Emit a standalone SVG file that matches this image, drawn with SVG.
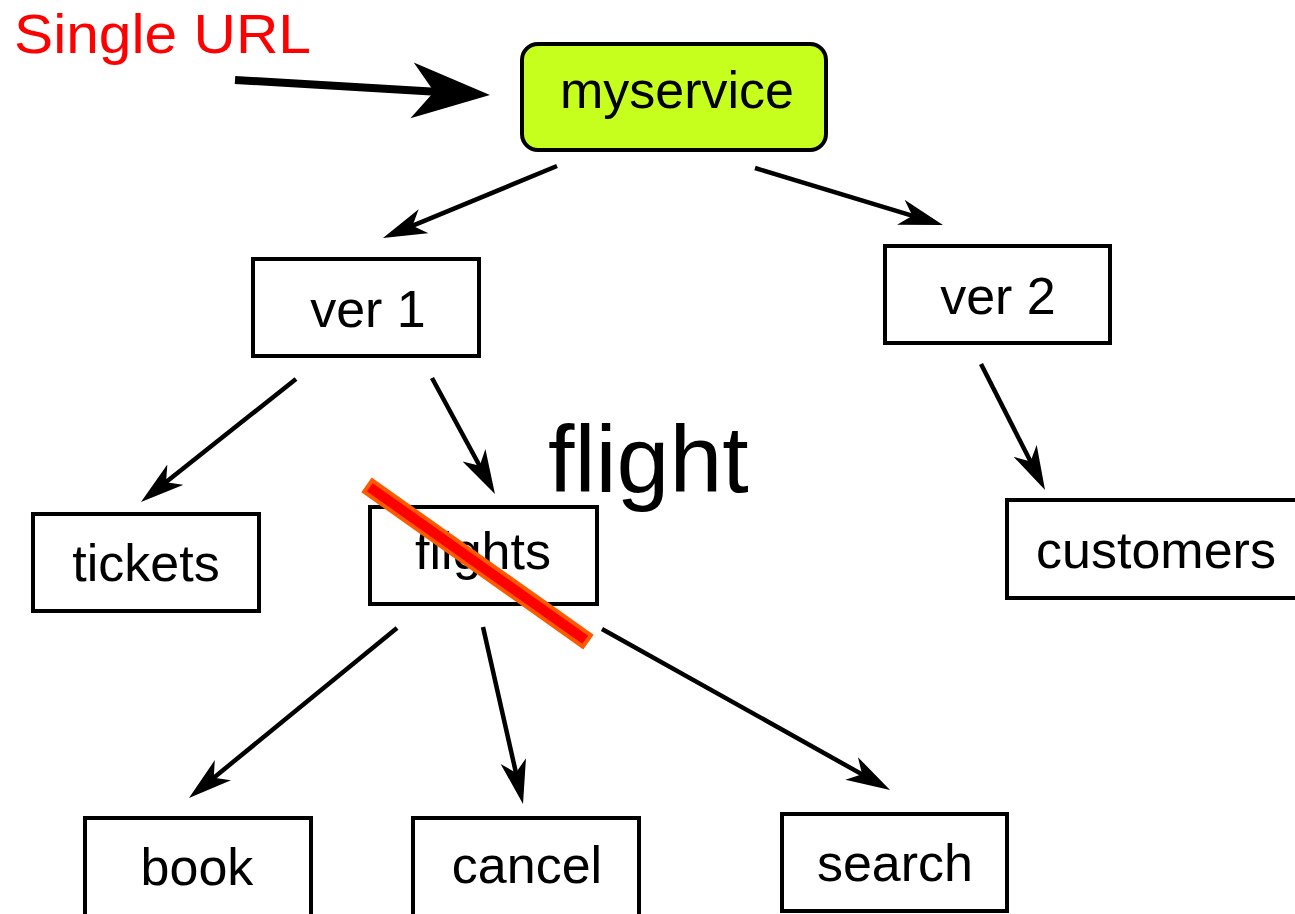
<svg xmlns="http://www.w3.org/2000/svg" width="1295" height="914" viewBox="0 0 1295 914">
<style>
.box{fill:#ffffff;stroke:#000000;stroke-width:4}
.lbl{font-family:"Liberation Sans",Arial,sans-serif;font-size:52px;fill:#000000;text-anchor:middle}
.edge{stroke:#000000;stroke-width:4.5;fill:none;marker-end:url(#ah)}
</style>
<defs>
<marker id="ah" markerUnits="userSpaceOnUse" markerWidth="46" markerHeight="28" refX="34" refY="13" orient="auto" viewBox="0 0 46 28">
<path d="M0,0 L44,13 L0,26 L12,13 Z" fill="#000000"/>
</marker>
<marker id="ahbig" markerUnits="userSpaceOnUse" markerWidth="82" markerHeight="60" refX="53" refY="28" orient="auto" viewBox="0 0 82 60">
<path d="M0,0 L78,28 L0,56 L22,28 Z" fill="#000000"/>
</marker>
</defs>
<rect width="1295" height="914" fill="#ffffff"/>
<text x="14" y="53" font-family="'Liberation Sans',Arial,sans-serif" font-size="55" fill="#ff0000" textLength="297" lengthAdjust="spacingAndGlyphs">Single URL</text>
<g id="connectors">
<line x1="235" y1="80" x2="465" y2="93.5" stroke="#000" stroke-width="8" marker-end="url(#ahbig)"/>
<line class="edge" x1="557" y1="166" x2="392.2" y2="234.2"/>
<line class="edge" x1="755" y1="168" x2="933.4" y2="222.1"/>
<line class="edge" x1="296" y1="379" x2="148.8" y2="495.8"/>
<line class="edge" x1="432" y1="378" x2="490.2" y2="485.2"/>
<line class="edge" x1="981" y1="364" x2="1040.5" y2="481.1"/>
<line class="edge" x1="397" y1="628" x2="196.7" y2="791.7"/>
<line class="edge" x1="483" y1="627" x2="520.8" y2="794.2"/>
<line class="edge" x1="602" y1="629" x2="881.3" y2="785.1"/>
</g>
<g id="myservice">
<rect x="522" y="44" width="304" height="106" rx="16" fill="#c6ff1e" stroke="#000" stroke-width="4"/>
<text class="lbl" x="677" y="108">myservice</text>
</g>
<g id="ver1">
<rect class="box" x="253" y="259" width="226" height="97"/>
<text class="lbl" x="368" y="327">ver 1</text>
</g>
<g id="ver2">
<rect class="box" x="885" y="246" width="225" height="97"/>
<text class="lbl" x="998" y="314">ver 2</text>
</g>
<g id="tickets">
<rect class="box" x="33" y="514" width="226" height="97"/>
<text class="lbl" x="146" y="581">tickets</text>
</g>
<g id="flights">
<rect class="box" x="370" y="507" width="227" height="97"/>
<text class="lbl" x="483" y="569">flights</text>
</g>
<g id="customers">
<rect class="box" x="1007" y="500" width="292" height="98"/>
<text class="lbl" x="1156" y="568">customers</text>
</g>
<g id="book">
<rect class="box" x="85" y="818" width="226" height="100"/>
<text class="lbl" x="197" y="885">book</text>
</g>
<g id="cancel">
<rect class="box" x="413" y="818" width="226" height="100"/>
<text class="lbl" x="527" y="883">cancel</text>
</g>
<g id="search">
<rect class="box" x="782" y="814" width="225" height="97"/>
<text class="lbl" x="895" y="881">search</text>
</g>
<text x="548" y="492" font-family="'Liberation Sans',Arial,sans-serif" font-size="95" fill="#000000">flight</text>
<rect x="343.5" y="556.5" width="268" height="14" fill="#ff0000" stroke="#ff5a00" stroke-width="4" transform="rotate(35.3 477.5 563.5)"/>
</svg>
